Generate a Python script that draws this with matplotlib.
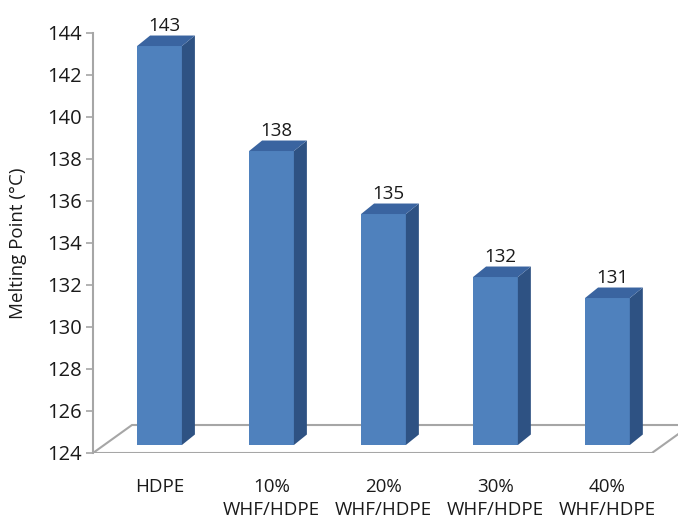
import matplotlib.pyplot as plt
from matplotlib.patches import Polygon

plt.rcParams['font.family'] = ['Open Sans', 'DejaVu Sans']

categories = ['HDPE', '10%\nWHF/HDPE', '20%\nWHF/HDPE', '30%\nWHF/HDPE', '40%\nWHF/HDPE']
melting = [143, 138, 135, 132, 131]
yticks = list(range(124, 145, 2))

front = '#4F81BD'
top = '#3A64A0'
side = '#2E5283'
grid = '#A6A6A6'

fig = plt.figure(figsize=(6.78, 5.22), dpi=100)
ax = fig.add_axes([93/678, 69/522, 585/678, 420/522])
ax.set_xlim(-0.594, 4.63)
ax.set_ylim(124, 144)

# fake 3d offsets (data units)
w = 0.40
bdx, bdy = 0.116, 0.5      # bar depth
lift = 0.38                # bars stand a bit behind the floor front edge
fdx, fdy = 0.348, 1.333    # floor depth
x0 = ax.get_xlim()[0]
x1 = 4.397
ymin = yticks[0]

floor = Polygon([(x0, ymin), (x1, ymin), (x1 + fdx, ymin + fdy), (x0 + fdx, ymin + fdy)],
                closed=True, facecolor='white', edgecolor=grid, lw=1.5, zorder=1)
ax.add_patch(floor)

xs = list(range(len(categories)))
ax.bar(xs, [v - ymin for v in melting], bottom=ymin + lift, width=w,
       color=front, edgecolor='none', zorder=3)
for x, v in zip(xs, melting):
    l, r = x - w/2, x + w/2
    b, t = ymin + lift, v + lift
    ax.add_patch(Polygon([(r, b), (r + bdx, b + bdy), (r + bdx, t + bdy), (r, t)],
                         closed=True, facecolor=side, edgecolor='none', zorder=3))
    ax.add_patch(Polygon([(l, t), (r, t), (r + bdx, t + bdy), (l + bdx, t + bdy)],
                         closed=True, facecolor=top, edgecolor='none', zorder=3))
    ax.text(x + 0.04, t + bdy + 0.22, str(v), ha='center', va='baseline',
            fontsize=13.5, color='#1a1a1a', zorder=4)

for s in ['top', 'right', 'bottom']:
    ax.spines[s].set_visible(False)
ax.spines['left'].set_color(grid)
ax.spines['left'].set_linewidth(1.5)

ax.set_yticks(yticks)
ax.tick_params(axis='y', direction='out', length=5, width=1.2, color=grid,
               labelsize=14.5, labelcolor='#1a1a1a', pad=3)
ax.set_xticks(xs)
ax.set_xticklabels(categories, fontsize=13.5, color='#1a1a1a')
ax.tick_params(axis='x', length=0, pad=18)
for lab in ax.get_xticklabels():
    lab.set_linespacing(1.35)

ax.set_ylabel('Melting Point (°C)', fontsize=13.5, color='#1a1a1a')
ax.yaxis.set_label_coords(-0.112, 0.5)

fig.savefig('out.png', dpi=100)
